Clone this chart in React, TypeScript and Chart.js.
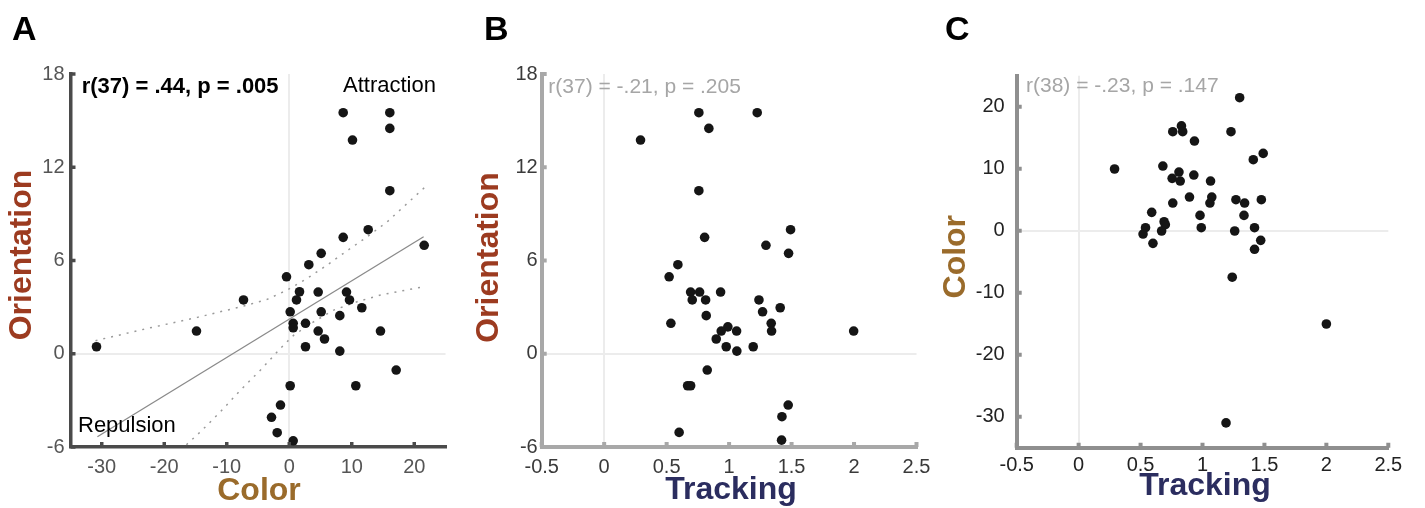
import React, { useEffect, useRef } from 'react';
import { Chart, registerables } from 'chart.js';

Chart.register(...registerables);

const FONT = '"Liberation Sans", Arial, Helvetica, sans-serif';

// ---------- Panel A: Color bias (x) vs Orientation bias (y) ----------
const A_COLOR = [8.63, 16.09, 16.09, 10.12, 16.09, 12.63, 8.63, 21.59, 5.11, 3.13, -0.44, 1.64, 4.63, 9.16, -7.32, 1.16, 9.64, 0.15, 5.11, 11.61, 8.09, 0.63, 0.63, 2.6, -14.84, 4.63, 14.6, 5.64, -30.84, 2.6, 8.09, 17.11, 0.15, 10.65, -1.4, -2.84, -1.93, 0.63];
const A_ORIENT = [15.51, 15.51, 14.5, 13.75, 10.49, 7.98, 7.49, 6.98, 6.46, 5.73, 4.95, 3.99, 3.97, 3.97, 3.46, 3.46, 3.46, 2.7, 2.7, 2.96, 2.45, 1.96, 1.67, 1.96, 1.46, 1.46, 1.46, 0.95, 0.45, 0.45, 0.17, -1.05, -2.06, -2.06, -3.3, -4.09, -5.08, -5.6];

// regression line and its confidence band
const A_FIT_X = [-30.7, 21.5];
const A_FIT_Y = [-5.34, 7.53];
const A_UPPER_X = [-31.0, -22.7, -14.7, -7.27, -3.53, -0.33, 2.87, 6.07, 9.27, 12.47, 15.67, 21.8];
const A_UPPER_Y = [0.84, 1.63, 2.34, 3.07, 3.5, 4.1, 4.85, 5.71, 6.63, 7.53, 8.49, 10.75];
const A_LOWER_X = [-17.4, -14.2, -11.0, -7.8, -4.6, -1.4, 0.73, 3.93, 7.13, 10.87, 14.6, 21.5];
const A_LOWER_Y = [-6.2, -5.02, -3.73, -2.34, -1.05, 0.35, 1.2, 2.06, 2.81, 3.35, 3.78, 4.31];

// ---------- Panel B: Tracking (x) vs Orientation (y) ----------
const B_TRACKING = [0.758, 1.225, 0.838, 0.291, 0.758, 1.492, 0.804, 1.295, 1.476, 0.59, 0.52, 0.692, 0.764, 0.932, 0.705, 0.812, 1.239, 1.268, 1.409, 0.817, 0.534, 0.99, 0.937, 1.06, 1.337, 1.34, 1.997, 0.897, 0.977, 1.193, 1.062, 0.825, 0.668, 0.692, 1.473, 1.423, 0.6, 1.42];
const B_ORIENT = [15.51, 15.51, 14.5, 13.75, 10.49, 7.98, 7.49, 6.98, 6.46, 5.73, 4.95, 3.97, 3.97, 3.97, 3.46, 3.46, 3.46, 2.7, 2.96, 2.45, 1.96, 1.73, 1.46, 1.46, 1.96, 1.46, 1.46, 0.95, 0.45, 0.45, 0.17, -1.05, -2.06, -2.06, -3.3, -4.05, -5.06, -5.56];

// ---------- Panel C: Tracking (x) vs Color (y) ----------
const C_TRACKING = [1.3, 0.83, 0.76, 0.84, 1.23, 0.935, 1.49, 1.41, 0.29, 0.68, 0.81, 0.93, 0.755, 0.82, 1.065, 0.895, 1.075, 0.76, 1.06, 1.27, 1.34, 1.475, 0.59, 0.98, 1.335, 0.69, 0.7, 0.54, 0.99, 1.42, 0.67, 1.26, 0.52, 1.47, 0.6, 1.42, 1.24, 2.0, 1.19];
const C_COLOR = [21.45, 16.9, 15.97, 15.97, 15.97, 14.46, 12.47, 11.45, 9.95, 10.43, 9.46, 8.98, 8.44, 8.01, 8.01, 5.43, 5.43, 4.46, 4.46, 5.0, 4.46, 5.0, 2.96, 2.47, 2.47, 1.45, 0.97, 0.48, 0.48, 0.48, -0.05, -0.05, -0.54, -1.56, -2.04, -3.0, -7.5, -15.05, -31.0];

// ---------- tick values ----------
const A_X_TICKS = [-30, -20, -10, 0, 10, 20];
const ORIENT_TICKS = [-6, 0, 6, 12, 18];
const TRACK_TICKS = [-0.5, 0, 0.5, 1, 1.5, 2, 2.5];
const C_Y_TICKS = [-30, -20, -10, 0, 10, 20];

const ORIENT_COLOR = '#9c3b20';
const COLOR_COLOR = '#9a6b2b';
const TRACK_COLOR = '#2b2d5f';

const decorPlugin = {
  id: 'decor',
  afterDraw(chart: any, _args: any, opts: any) {
    const ctx = chart.ctx;
    const area = chart.chartArea;
    const xs = chart.scales.x;
    const ys = chart.scales.y;
    ctx.save();
    // inward tick marks
    ctx.strokeStyle = opts.axisColor;
    ctx.lineWidth = opts.tickWidth;
    ctx.beginPath();
    xs.ticks.forEach((t: any) => {
      const px = xs.getPixelForValue(t.value);
      ctx.moveTo(px, area.bottom);
      ctx.lineTo(px, area.bottom - opts.tickLen);
    });
    ys.ticks.forEach((t: any) => {
      const py = ys.getPixelForValue(t.value);
      ctx.moveTo(area.left, py);
      ctx.lineTo(area.left + opts.tickLen, py);
    });
    ctx.stroke();
    // texts
    const texts = opts.texts || [];
    for (let i = 0; i < texts.length; i++) {
      const t = texts[i];
      ctx.save();
      ctx.font = t.font;
      ctx.fillStyle = t.color;
      ctx.textAlign = t.align || 'left';
      ctx.textBaseline = t.baseline || 'alphabetic';
      ctx.translate(t.x, t.y);
      if (t.rotate) ctx.rotate(-Math.PI / 2);
      ctx.fillText(t.text, 0, 0);
      ctx.restore();
    }
    ctx.restore();
  },
};

type PanelSpec = {
  width: number;
  left: number;
  right: number;
  top: number;
  bottom: number;
  xMin: number;
  xMax: number;
  yMin: number;
  yMax: number;
  xTicks: number[];
  yTicks: number[];
  axisColor: string;
  axisWidth: number;
  tickColor: string;
  yPad: number;
  xPad: number;
  datasets: any[];
  texts: any[];
};

const plainLabel = (v: any) => String(v);

function buildConfig(p: PanelSpec): any {
  const zeroGrid = {
    color: (c: any) => (c.tick && c.tick.value === 0 ? '#ececec' : 'rgba(0,0,0,0)'),
    lineWidth: 2,
    drawTicks: false,
  };
  return {
    type: 'scatter',
    data: { datasets: p.datasets },
    plugins: [decorPlugin],
    options: {
      responsive: false,
      animation: false,
      events: [],
      layout: { padding: { left: 0, top: p.top, right: p.width - p.right, bottom: 0 } },
      plugins: {
        legend: { display: false },
        tooltip: { enabled: false },
        decor: {
          axisColor: p.axisColor,
          tickWidth: p.axisWidth,
          tickLen: 5,
          texts: p.texts,
        },
      },
      scales: {
        x: {
          type: 'linear',
          position: 'bottom',
          min: p.xMin,
          max: p.xMax,
          afterBuildTicks: (s: any) => {
            s.ticks = p.xTicks.map((v) => ({ value: v }));
          },
          afterFit: (s: any) => {
            s.height = 508 - p.bottom;
          },
          grid: zeroGrid,
          border: { display: true, color: p.axisColor, width: p.axisWidth },
          ticks: {
            color: p.tickColor,
            font: { family: FONT, size: 20 },
            padding: p.xPad,
            maxRotation: 0,
            autoSkip: false,
            callback: plainLabel,
          },
        },
        y: {
          type: 'linear',
          position: 'left',
          min: p.yMin,
          max: p.yMax,
          afterBuildTicks: (s: any) => {
            s.ticks = p.yTicks.map((v) => ({ value: v }));
          },
          afterFit: (s: any) => {
            s.width = p.left;
          },
          grid: zeroGrid,
          border: { display: true, color: p.axisColor, width: p.axisWidth },
          ticks: {
            color: p.tickColor,
            font: { family: FONT, size: 20 },
            padding: p.yPad,
            autoSkip: false,
            callback: plainLabel,
          },
        },
      },
    },
  };
}

function pts(xs: number[], ys: number[]) {
  return xs.map((x, i) => ({ x, y: ys[i] }));
}

const dotStyle = {
  pointRadius: 4.8,
  pointBackgroundColor: '#151515',
  pointBorderWidth: 0,
  showLine: false,
  order: 0,
};

const titleFont = `bold 32px ${FONT}`;
const letterFont = `bold 34px ${FONT}`;

function specA(): PanelSpec {
  return {
    width: 475,
    left: 70.5,
    right: 445.5,
    top: 74,
    bottom: 447,
    xMin: -35,
    xMax: 25,
    yMin: -6,
    yMax: 18,
    xTicks: A_X_TICKS,
    yTicks: ORIENT_TICKS,
    axisColor: '#4a4a4a',
    axisWidth: 3.5,
    tickColor: '#555555',
    yPad: 6,
    xPad: 8,
    datasets: [
      { ...dotStyle, data: pts(A_COLOR, A_ORIENT) },
      {
        data: pts(A_FIT_X, A_FIT_Y),
        showLine: true,
        pointRadius: 0,
        borderColor: '#8a8a8a',
        borderWidth: 1.3,
        order: 1,
      },
      {
        data: pts(A_UPPER_X, A_UPPER_Y),
        showLine: true,
        pointRadius: 0,
        borderColor: '#9a9a9a',
        borderWidth: 1.5,
        borderDash: [2, 6],
        order: 2,
      },
      {
        data: pts(A_LOWER_X, A_LOWER_Y),
        showLine: true,
        pointRadius: 0,
        borderColor: '#9a9a9a',
        borderWidth: 1.5,
        borderDash: [2, 6],
        order: 2,
      },
    ],
    texts: [
      { text: 'A', x: 12, y: 31, font: letterFont, color: '#000', baseline: 'middle' },
      { text: 'r(37) = .44, p = .005', x: 81.7, y: 93, font: `bold 22px ${FONT}`, color: '#000' },
      { text: 'Attraction', x: 343, y: 92, font: `22px ${FONT}`, color: '#000' },
      { text: 'Repulsion', x: 78, y: 432, font: `22px ${FONT}`, color: '#000' },
      { text: 'Orientation', x: 22.5, y: 255, font: titleFont, color: ORIENT_COLOR, align: 'center', baseline: 'middle', rotate: true },
      { text: 'Color', x: 259, y: 491.5, font: titleFont, color: COLOR_COLOR, align: 'center', baseline: 'middle' },
    ],
  };
}

function specB(): PanelSpec {
  return {
    width: 465,
    left: 66.7,
    right: 441.5,
    top: 74,
    bottom: 447,
    xMin: -0.5,
    xMax: 2.5,
    yMin: -6,
    yMax: 18,
    xTicks: TRACK_TICKS,
    yTicks: ORIENT_TICKS,
    axisColor: '#a8a8a8',
    axisWidth: 4,
    tickColor: '#3a3a3a',
    yPad: 4,
    xPad: 8,
    datasets: [{ ...dotStyle, data: pts(B_TRACKING, B_ORIENT) }],
    texts: [
      { text: 'B', x: 9, y: 31, font: letterFont, color: '#000', baseline: 'middle' },
      { text: 'r(37) = -.21, p = .205', x: 73.3, y: 93, font: `21px ${FONT}`, color: '#a6a6a6' },
      { text: 'Orientation', x: 14.5, y: 257.5, font: titleFont, color: ORIENT_COLOR, align: 'center', baseline: 'middle', rotate: true },
      { text: 'Tracking', x: 256, y: 490, font: titleFont, color: TRACK_COLOR, align: 'center', baseline: 'middle' },
    ],
  };
}

function specC(): PanelSpec {
  return {
    width: 485,
    left: 76.7,
    right: 448.3,
    top: 75.7,
    bottom: 447.7,
    xMin: -0.5,
    xMax: 2.5,
    yMin: -35,
    yMax: 25,
    xTicks: TRACK_TICKS,
    yTicks: C_Y_TICKS,
    axisColor: '#8f8f8f',
    axisWidth: 4,
    tickColor: '#222222',
    yPad: 12,
    xPad: 6,
    datasets: [{ ...dotStyle, data: pts(C_TRACKING, C_COLOR) }],
    texts: [
      { text: 'C', x: 5, y: 31, font: letterFont, color: '#000', baseline: 'middle' },
      { text: 'r(38) = -.23, p = .147', x: 86, y: 92, font: `21px ${FONT}`, color: '#a6a6a6' },
      { text: 'Color', x: 15.8, y: 256.7, font: titleFont, color: COLOR_COLOR, align: 'center', baseline: 'middle', rotate: true },
      { text: 'Tracking', x: 265, y: 486, font: titleFont, color: TRACK_COLOR, align: 'center', baseline: 'middle' },
    ],
  };
}

function Panel({ left, width, make }: { left: number; width: number; make: () => PanelSpec }) {
  const ref = useRef<HTMLCanvasElement | null>(null);
  useEffect(() => {
    if (!ref.current) return;
    const chart = new Chart(ref.current, buildConfig(make()));
    return () => chart.destroy();
  }, [make]);
  return (
    <canvas
      ref={ref}
      width={width}
      height={508}
      style={{ position: 'absolute', left, top: 0, width, height: 508, display: 'block' }}
    />
  );
}

export default function App() {
  return (
    <div style={{ position: 'absolute', left: 0, top: 0, width: 1425, height: 508, background: '#fff', overflow: 'hidden' }}>
      <Panel left={0} width={475} make={specA} />
      <Panel left={475} width={465} make={specB} />
      <Panel left={940} width={485} make={specC} />
    </div>
  );
}
